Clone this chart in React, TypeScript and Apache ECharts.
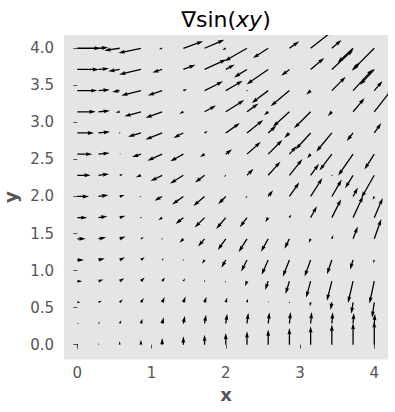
import React, { useEffect, useRef } from 'react';
import * as echarts from 'echarts';

// Grid positions (x: columns, y: rows)
const X_GRID = [0, 0.2857, 0.5714, 0.8571, 1.1429, 1.4286, 1.7143, 2, 2.2857, 2.5714, 2.8571, 3.1429, 3.4286, 3.7143, 4];
const Y_GRID = [0, 0.2857, 0.5714, 0.8571, 1.1429, 1.4286, 1.7143, 2, 2.2857, 2.5714, 2.8571, 3.1429, 3.4286, 3.7143, 4];

// x-components of the gradient, one row per y grid value
const U_ROWS = [
  [0, 0, 0, 0, 0, 0, 0, 0, 0, 0, 0, 0, 0, 0, 0],
  [0.29, 0.28, 0.28, 0.28, 0.27, 0.26, 0.25, 0.24, 0.23, 0.21, 0.2, 0.18, 0.16, 0.14, 0.12],
  [0.57, 0.56, 0.54, 0.5, 0.45, 0.39, 0.32, 0.24, 0.15, 0.06, -0.04, -0.13, -0.22, -0.3, -0.37],
  [0.86, 0.83, 0.76, 0.64, 0.48, 0.29, 0.09, -0.12, -0.32, -0.51, -0.66, -0.77, -0.84, -0.86, -0.82],
  [1.14, 1.08, 0.91, 0.64, 0.3, -0.07, -0.43, -0.75, -0.99, -1.12, -1.13, -1.03, -0.82, -0.52, -0.16],
  [1.43, 1.31, 0.98, 0.49, -0.09, -0.65, -1.1, -1.37, -1.42, -1.23, -0.84, -0.32, 0.26, 0.8, 1.2],
  [1.71, 1.51, 0.96, 0.17, -0.65, -1.32, -1.68, -1.64, -1.22, -0.51, 0.32, 1.07, 1.58, 1.71, 1.44],
  [2, 1.68, 0.83, -0.29, -1.31, -1.92, -1.92, -1.31, -0.28, 0.83, 1.69, 2, 1.68, 0.83, -0.29],
  [2.29, 1.82, 0.6, -0.87, -1.97, -2.27, -1.63, -0.32, 1.12, 2.1, 2.22, 1.42, 0.04, -1.36, -2.2],
  [2.57, 1.91, 0.26, -1.52, -2.52, -2.22, -0.77, 1.07, 2.36, 2.43, 1.25, -0.58, -2.11, -2.55, -1.68],
  [2.86, 1.96, -0.18, -2.2, -2.84, -1.69, 0.53, 2.41, 2.77, 1.39, -0.87, -2.58, -2.66, -1.07, 1.2],
  [3.14, 1.96, -0.7, -2.83, -2.83, -0.69, 1.96, 3.14, 1.95, -0.71, -2.84, -2.83, -0.69, 1.97, 3.14],
  [3.43, 1.91, -1.3, -3.36, -2.45, 0.63, 3.15, 2.88, 0.06, -2.81, -3.2, -0.75, 2.36, 3.38, 1.41],
  [3.71, 1.81, -1.95, -3.71, -1.67, 2.08, 3.7, 1.53, -2.21, -3.68, -1.39, 2.33, 3.66, 1.24, -2.45],
  [4, 1.66, -2.62, -3.84, -0.56, 3.37, 3.36, -0.58, -3.84, -2.61, 1.68, 4, 1.64, -2.64, -3.83],
];

// y-components of the gradient, one row per y grid value
const V_ROWS = [
  [0, 0.29, 0.57, 0.86, 1.14, 1.43, 1.71, 2, 2.29, 2.57, 2.86, 3.14, 3.43, 3.71, 4],
  [0, 0.29, 0.56, 0.83, 1.08, 1.31, 1.51, 1.68, 1.82, 1.91, 1.96, 1.96, 1.91, 1.81, 1.66],
  [0, 0.28, 0.54, 0.76, 0.91, 0.98, 0.96, 0.83, 0.6, 0.26, -0.18, -0.7, -1.3, -1.95, -2.62],
  [0, 0.28, 0.5, 0.64, 0.64, 0.49, 0.17, -0.29, -0.87, -1.52, -2.2, -2.83, -3.36, -3.71, -3.84],
  [0, 0.27, 0.45, 0.48, 0.3, -0.09, -0.65, -1.31, -1.97, -2.52, -2.84, -2.83, -2.45, -1.67, -0.56],
  [0, 0.26, 0.39, 0.29, -0.07, -0.65, -1.32, -1.92, -2.27, -2.22, -1.69, -0.69, 0.63, 2.08, 3.37],
  [0, 0.25, 0.32, 0.09, -0.43, -1.1, -1.68, -1.92, -1.63, -0.77, 0.53, 1.96, 3.15, 3.7, 3.36],
  [0, 0.24, 0.24, -0.12, -0.75, -1.37, -1.64, -1.31, -0.32, 1.07, 2.41, 3.14, 2.88, 1.53, -0.58],
  [0, 0.23, 0.15, -0.32, -0.99, -1.42, -1.22, -0.28, 1.12, 2.36, 2.77, 1.95, 0.06, -2.21, -3.84],
  [0, 0.21, 0.06, -0.51, -1.12, -1.23, -0.51, 0.83, 2.1, 2.43, 1.39, -0.71, -2.81, -3.68, -2.61],
  [0, 0.2, -0.04, -0.66, -1.13, -0.84, 0.32, 1.69, 2.22, 1.25, -0.87, -2.84, -3.2, -1.39, 1.68],
  [0, 0.18, -0.13, -0.77, -1.03, -0.32, 1.07, 2, 1.42, -0.58, -2.58, -2.83, -0.75, 2.33, 4],
  [0, 0.16, -0.22, -0.84, -0.82, 0.26, 1.58, 1.68, 0.04, -2.11, -2.66, -0.69, 2.36, 3.66, 1.64],
  [0, 0.14, -0.3, -0.86, -0.52, 0.8, 1.71, 0.83, -1.36, -2.55, -1.07, 1.97, 3.38, 1.24, -2.64],
  [0, 0.12, -0.37, -0.82, -0.16, 1.2, 1.44, -0.29, -2.2, -1.68, 1.2, 3.14, 1.41, -2.45, -3.83],
];

const X_TICKS = [0, 1, 2, 3, 4];
const Y_TICKS = [0, 0.5, 1, 1.5, 2, 2.5, 3, 3.5, 4];
const TITLE_MAIN = '∇sin(';
const TITLE_ITALIC = 'xy';
const TITLE_END = ')';
const X_NAME = 'x';
const Y_NAME = 'y';

const FONT = 'DejaVu Sans';
const LABEL_GRAY = '#555555';

export default function App() {
  const ref = useRef<HTMLDivElement>(null);

  useEffect(() => {
    if (!ref.current) return;
    const chart = echarts.init(ref.current, null, { renderer: 'svg' });

    const data: number[][] = [];
    Y_GRID.forEach((y, j) => {
      X_GRID.forEach((x, i) => {
        data.push([x, y, U_ROWS[j][i], V_ROWS[j][i]]);
      });
    });
    const N = data.length;
    const amean = data.reduce((s, d) => s + Math.hypot(d[2], d[3]), 0) / N;
    const snScale = Math.max(10, Math.sqrt(N));
    const snWidth = Math.min(25, Math.max(8, Math.sqrt(N)));

    // matplotlib-like quiver arrow shape parameters (in shaft widths)
    const HEAD_WIDTH = 3;
    const HEAD_LENGTH = 5;
    const HEAD_AXIS = 4.5;
    const MIN_SHAFT = 1;
    const MIN_LENGTH = 1;

    const renderItem = (params: any, api: any) => {
      const x = api.value(0);
      const y = api.value(1);
      const u = api.value(2);
      const v = api.value(3);
      const p = api.coord([x, y]);
      const span = params.coordSys.width;
      const w = (0.06 * span) / snWidth;
      const pxPerUnit = span / (1.8 * amean * snScale);
      const a = Math.hypot(u, v);
      const L = (a * pxPerUnit) / w;
      let pts: number[][] = [];
      const minsh = MIN_SHAFT * HEAD_LENGTH;
      if (L < MIN_LENGTH) {
        for (let k = 0; k < 6; k++) {
          const th = (k * Math.PI) / 3;
          pts.push([Math.cos(th) * MIN_LENGTH * 0.5, Math.sin(th) * MIN_LENGTH * 0.5]);
        }
      } else {
        let xs: number[];
        let ys: number[] = [0.5, 0.5, 0.5 * HEAD_WIDTH, 0];
        if (L < minsh) {
          const sh = L / minsh;
          xs = [0, minsh - HEAD_AXIS, minsh - HEAD_LENGTH, minsh].map((t) => t * sh);
          ys = ys.map((t) => t * sh);
        } else {
          xs = [0, L - HEAD_AXIS, L - HEAD_LENGTH, L];
        }
        const ii = [0, 1, 2, 3, 2, 1, 0];
        pts = ii.map((idx, k) => [xs[idx], k > 3 ? -ys[idx] : ys[idx]]);
      }
      const ang = Math.atan2(v, u);
      const c = Math.cos(ang);
      const s = Math.sin(ang);
      const points = pts.map(([px, py]) => [
        p[0] + (px * c - py * s) * w,
        p[1] - (px * s + py * c) * w,
      ]);
      return {
        type: 'polygon',
        shape: { points },
        style: { fill: '#000000', stroke: null },
      };
    };

    chart.setOption({
      animation: false,
      backgroundColor: '#ffffff',
      grid: {
        left: 64,
        right: 7,
        top: 35,
        bottom: 52.5,
        show: true,
        backgroundColor: '#E5E5E5',
        borderWidth: 0,
        containLabel: false,
        outerBoundsMode: 'none',
      },
      xAxis: {
        type: 'value',
        min: -0.179,
        max: 4.185,
        name: X_NAME,
        nameLocation: 'middle',
        nameGap: 26,
        nameTextStyle: { fontFamily: FONT, fontSize: 18, fontWeight: 'bold', color: LABEL_GRAY },
        axisLine: { show: false },
        splitLine: { show: false },
        axisTick: { show: true, customValues: X_TICKS, length: 4, lineStyle: { color: LABEL_GRAY, width: 1 } },
        axisLabel: {
          customValues: X_TICKS,
          fontFamily: FONT,
          fontSize: 15,
          color: LABEL_GRAY,
          margin: 6,
          formatter: (val: number) => String(val),
        },
      },
      yAxis: {
        type: 'value',
        min: -0.2,
        max: 4.179,
        name: Y_NAME,
        nameLocation: 'middle',
        nameGap: 38,
        nameTextStyle: { fontFamily: FONT, fontSize: 18, fontWeight: 'bold', color: LABEL_GRAY },
        axisLine: { show: false },
        splitLine: { show: false },
        axisTick: { show: true, customValues: Y_TICKS, length: 4, lineStyle: { color: LABEL_GRAY, width: 1 } },
        axisLabel: {
          customValues: Y_TICKS,
          fontFamily: FONT,
          fontSize: 15,
          color: LABEL_GRAY,
          margin: 10,
          formatter: (val: number) => val.toFixed(1),
        },
      },
      graphic: [
        {
          type: 'text',
          x: 226,
          y: 19,
          style: {
            text: `{n|${TITLE_MAIN}}{i|${TITLE_ITALIC}}{n|${TITLE_END}}`,
            rich: {
              n: { fontFamily: FONT, fontSize: 22, fill: '#000000' },
              i: { fontFamily: FONT, fontSize: 22, fontStyle: 'italic', fill: '#000000' },
            },
            align: 'center',
            verticalAlign: 'middle',
          },
        },
      ],
      series: [
        {
          type: 'custom',
          coordinateSystem: 'cartesian2d',
          clip: true,
          renderItem,
          encode: { x: 0, y: 1 },
          data,
          silent: true,
        },
      ],
    });

    return () => chart.dispose();
  }, []);

  return (
    <div
      ref={ref}
      style={{ position: 'fixed', left: 0, top: 0, width: 395, height: 412 }}
    />
  );
}
